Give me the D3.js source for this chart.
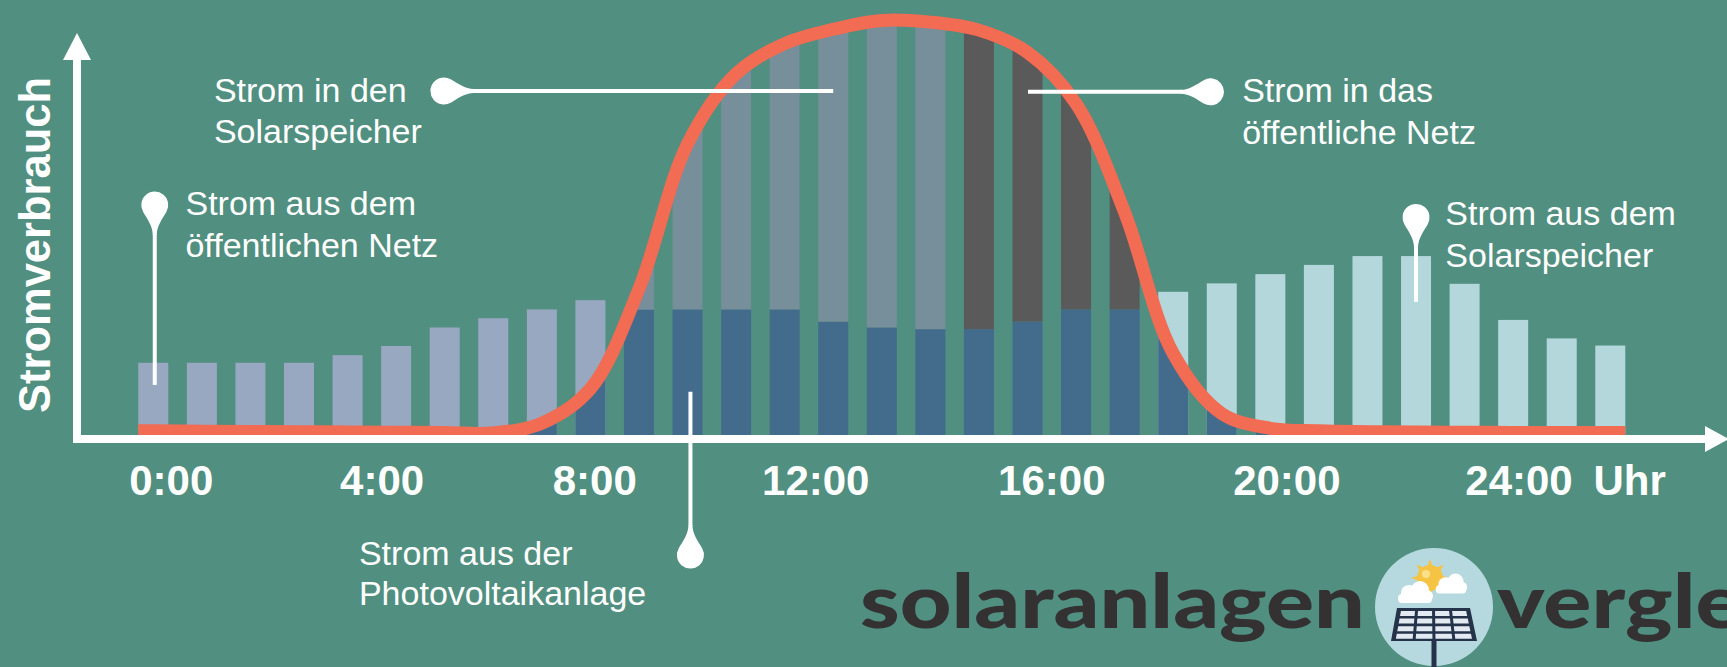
<!DOCTYPE html>
<html lang="de">
<head>
<meta charset="utf-8">
<script src="https://cdn.jsdelivr.net/npm/d3@7"></script>
<style>
  html, body { margin: 0; padding: 0; background: #518f80; }
  svg { display: block; }
</style>
</head>
<body>
<svg id="chart" width="1727" height="667"></svg>
<script>
// Tagesverlauf eines Haushalts mit PV-Anlage und Speicher, 31 Zeitschritte (relative Einheiten)
const verbrauch = [1.72, 1.72, 1.72, 1.72, 1.90, 2.12, 2.56, 2.78, 2.99, 3.21,
                   2.99, 2.99, 2.99, 2.99, 2.70, 2.56, 2.52, 2.52, 2.70, 2.99,
                   2.99, 3.41, 3.61, 3.83, 4.05, 4.26, 4.26, 3.60, 2.74, 2.30, 2.13];
const pvErzeugung = [0.10, 0.09, 0.085, 0.08, 0.07, 0.065, 0.06, 0.05, 0.28, 1.10,
                     3.48, 6.93, 8.60, 9.32, 9.66, 9.87, 9.83, 9.64, 9.11, 7.89,
                     5.30, 1.94, 0.51, 0.16, 0.10, 0.08, 0.07, 0.065, 0.06, 0.06, 0.06];
// Woher der fehlende Strom kommt, wenn die PV-Anlage nicht reicht
const deckungAus = ['netz', 'netz', 'netz', 'netz', 'netz', 'netz', 'netz', 'netz', 'netz', 'netz',
                    'netz', null, null, null, null, null, null, null, null, null,
                    null, 'speicher', 'speicher', 'speicher', 'speicher', 'speicher', 'speicher', 'speicher', 'speicher', 'speicher', 'speicher'];
// Wohin der Überschuss der PV-Anlage fließt
const ueberschussIn = [null, null, null, null, null, null, null, null, null, null,
                       'speicher', 'speicher', 'speicher', 'speicher', 'speicher', 'speicher', 'speicher', 'netz', 'netz', 'netz',
                       'netz', null, null, null, null, null, null, null, null, null, null];

const tickLabels = ['0:00', '4:00', '8:00', '12:00', '16:00', '20:00', '24:00'];
const tickSlots = [0.36, 4.70, 9.08, 13.63, 18.49, 23.33, 28.11];
const zeitEinheit = 'Uhr';
const achsenTitel = 'Stromverbrauch';

const hinweisTexte = [
  ['Strom aus dem', 'öffentlichen Netz'],
  ['Strom in den', 'Solarspeicher'],
  ['Strom in das', 'öffentliche Netz'],
  ['Strom aus dem', 'Solarspeicher'],
  ['Strom aus der', 'Photovoltaikanlage']
];
const logoTeile = ['solaranlagen', 'vergleich'];

// ---------------------------------------------------------------------------
const farbeBezug = { netz: '#98a8c0', speicher: '#b3d7db' };
const farbeUeberschuss = { speicher: '#778e9b', netz: '#5a5a5a' };
const farbePV = '#436b8c';
const farbeKurve = '#f26b53';
const weiss = '#ffffff';
const schrift = '"Liberation Sans", Arial, Helvetica, sans-serif';

const svg = d3.select('#chart');
const n = verbrauch.length;
const idx = d3.range(n);
const barW = 30;

const x = d3.scaleLinear().domain([0, n - 1]).range([153.3, 1610.3]);
const y = d3.scaleLinear().domain([0, 10]).range([435, 15]);

// PV-Kurve reicht bis an die Außenkanten der ersten und letzten Säule
const randL = x.invert(x(0) - barW / 2);
const randR = x.invert(x(n - 1) + barW / 2);
const kurvenPunkte = [[randL, pvErzeugung[0]]]
  .concat(idx.map(i => [i, pvErzeugung[i]]))
  .concat([[randR, pvErzeugung[n - 1]]]);
const kurvenTyp = d3.curveCatmullRom.alpha(0.5);

const defs = svg.append('defs');
const flaeche = d3.area()
  .x(d => x(d[0])).y0(y(0)).y1(d => y(d[1]))
  .curve(kurvenTyp);
defs.append('clipPath').attr('id', 'unterKurve')
  .append('path').attr('d', flaeche(kurvenPunkte));

// Säulen: Bezug (Netz/Speicher), direkt genutzter PV-Strom, Überschuss
const balken = svg.append('g').attr('class', 'balken');

balken.append('g').selectAll('rect')
  .data(idx.filter(i => deckungAus[i]))
  .join('rect')
  .attr('x', i => x(i) - barW / 2).attr('width', barW)
  .attr('y', i => y(verbrauch[i]))
  .attr('height', i => y(0) - y(verbrauch[i]))
  .attr('fill', i => farbeBezug[deckungAus[i]]);

balken.append('g').attr('clip-path', 'url(#unterKurve)').selectAll('rect')
  .data(idx)
  .join('rect')
  .attr('x', i => x(i) - barW / 2).attr('width', barW)
  .attr('y', i => y(verbrauch[i]))
  .attr('height', i => y(0) - y(verbrauch[i]))
  .attr('fill', farbePV);

const yOben = y.domain()[1] + 0.5;
balken.append('g').attr('clip-path', 'url(#unterKurve)').selectAll('rect')
  .data(idx.filter(i => ueberschussIn[i]))
  .join('rect')
  .attr('x', i => x(i) - barW / 2).attr('width', barW)
  .attr('y', y(yOben))
  .attr('height', i => y(verbrauch[i]) - y(yOben))
  .attr('fill', i => farbeUeberschuss[ueberschussIn[i]]);

// PV-Erzeugungskurve
const linie = d3.line().x(d => x(d[0])).y(d => y(d[1])).curve(kurvenTyp);
svg.append('path')
  .attr('d', linie(kurvenPunkte))
  .attr('fill', 'none')
  .attr('stroke', farbeKurve)
  .attr('stroke-width', 13);

// Achsen mit Pfeilspitzen
const achsen = svg.append('g').attr('fill', weiss);
const achsX0 = 73, achsDicke = 8, achsY = y(0);
achsen.append('rect').attr('x', achsX0).attr('y', 58)
  .attr('width', achsDicke).attr('height', achsY + achsDicke - 58);
achsen.append('path').attr('d', `M${achsX0 - 10},60 L${achsX0 + 4},33 L${achsX0 + 18},60 Z`);
achsen.append('rect').attr('x', achsX0).attr('y', achsY)
  .attr('width', 1708 - achsX0).attr('height', achsDicke);
achsen.append('path').attr('d', `M1705,${achsY - 9} L1729,${achsY + 4} L1705,${achsY + 17} Z`);

// Zeitbeschriftung
const xAchse = d3.axisBottom(x)
  .tickValues(tickSlots)
  .tickFormat((d, i) => tickLabels[i])
  .tickSize(0).tickPadding(0);
const xg = svg.append('g').attr('transform', 'translate(0,465)').call(xAchse);
xg.select('.domain').remove();
xg.selectAll('text')
  .attr('fill', weiss)
  .style('font-family', schrift)
  .style('font-weight', 'bold')
  .style('font-size', '42px');
svg.append('text')
  .attr('x', x(tickSlots[tickSlots.length - 1]) + 75)
  .attr('y', 495)
  .attr('fill', weiss)
  .style('font-family', schrift).style('font-weight', 'bold').style('font-size', '42px')
  .text(zeitEinheit);

// Achsentitel
svg.append('text')
  .attr('transform', 'translate(50,245) rotate(-90)')
  .attr('text-anchor', 'middle')
  .attr('fill', weiss)
  .style('font-family', schrift).style('font-weight', 'bold').style('font-size', '43.5px')
  .text(achsenTitel);

// Hinweise mit Stecknadel-Markierungen
const pinR = 13.5, pinL = 30, pinW = 2;
const kopf = `M${pinL},${-pinW} C${pinL - 9},${-pinW} ${pinR * 0.5 + 7},${-pinR * 0.866 + 4} ${pinR * 0.5},${-pinR * 0.866} ` +
  `A${pinR},${pinR} 0 1 0 ${pinR * 0.5},${pinR * 0.866} ` +
  `C${pinR * 0.5 + 7},${pinR * 0.866 - 4} ${pinL - 9},${pinW} ${pinL},${pinW} Z`;

const richtungen = {
  oben:   { dx: 0, dy: -1, drehung: 90 },
  unten:  { dx: 0, dy: 1, drehung: -90 },
  links:  { dx: -1, dy: 0, drehung: 0 },
  rechts: { dx: 1, dy: 0, drehung: 180 }
};
const hinweisLayout = [
  { slot: 0.03, wert: 1.19, richtung: 'oben', abstand: 180, tx: 30.7, ty: 10, zeile: 41.7 },
  { slot: 14.0, wert: 8.19, richtung: 'links', abstand: 389.3, tx: -230, ty: 10.7, zeile: 41.7 },
  { slot: 18.01, wert: 8.17, richtung: 'rechts', abstand: 182.5, tx: 31.7, ty: 10, zeile: 41.7 },
  { slot: 26.0, wert: 3.17, richtung: 'oben', abstand: 84.4, tx: 29.3, ty: 7.5, zeile: 41.7 },
  { slot: 11.06, wert: 1.03, richtung: 'unten', abstand: 163.3, tx: -331.5, ty: 10, zeile: 40 }
];

const hinweise = svg.append('g').attr('class', 'hinweise');
hinweisTexte.forEach((zeilen, k) => {
  const l = hinweisLayout[k];
  const r = richtungen[l.richtung];
  const ax = x(l.slot), ay = y(l.wert);
  const kx = ax + r.dx * l.abstand, ky = ay + r.dy * l.abstand;
  const g = hinweise.append('g');
  g.append('line')
    .attr('x1', ax).attr('y1', ay)
    .attr('x2', kx - r.dx * (pinL - 1)).attr('y2', ky - r.dy * (pinL - 1))
    .attr('stroke', weiss).attr('stroke-width', 4);
  g.append('path').attr('d', kopf).attr('fill', weiss)
    .attr('transform', `translate(${kx},${ky}) rotate(${r.drehung})`);
  const t = g.append('text')
    .attr('fill', weiss)
    .style('font-family', schrift).style('font-size', '34px');
  zeilen.forEach((z, j) => {
    t.append('tspan').attr('x', kx + l.tx).attr('y', ky + l.ty + j * l.zeile).text(z);
  });
});

// Logo (Wortmarke läuft rechts über den Bildrand hinaus)
const logo = svg.append('g').attr('class', 'logo');
const logoSchrift = 'Lato, "Open Sans", sans-serif';
const wortBreite = 505, logoGroesse = 74;
const wort1 = logo.append('text')
  .attr('fill', '#333132')
  .style('font-family', logoSchrift).style('font-weight', 900).style('font-size', logoGroesse + 'px')
  .text(logoTeile[0]);
const streckung = wortBreite / wort1.node().getComputedTextLength();
wort1.attr('transform', `translate(860,628) scale(${streckung},1)`);
logo.append('text')
  .attr('transform', `translate(1497,628) scale(${streckung},1)`)
  .attr('fill', '#333132')
  .style('font-family', logoSchrift).style('font-weight', 900).style('font-size', logoGroesse + 'px')
  .text(logoTeile[1]);

const icon = logo.append('g').attr('transform', 'translate(1434,607)');
icon.append('circle').attr('r', 59).attr('fill', '#b5d9de');
const sonne = icon.append('g').attr('transform', 'translate(-4,-29)');
d3.range(8).forEach(k => {
  const a = k * Math.PI / 4;
  sonne.append('path')
    .attr('d', `M${Math.cos(a - 0.22) * 12},${Math.sin(a - 0.22) * 12} L${Math.cos(a) * 19},${Math.sin(a) * 19} L${Math.cos(a + 0.22) * 12},${Math.sin(a + 0.22) * 12} Z`)
    .attr('fill', '#f5c445');
});
sonne.append('circle').attr('r', 13).attr('fill', '#f5c445');
sonne.append('circle').attr('cx', -4).attr('cy', -4).attr('r', 4).attr('fill', '#fbe08a');
const wolke = (g, cx, cy, s) => {
  const w = g.append('g').attr('fill', '#ffffff').attr('transform', `translate(${cx},${cy}) scale(${s})`);
  w.append('rect').attr('x', -17).attr('y', -3).attr('width', 34).attr('height', 9).attr('rx', 4);
  w.append('circle').attr('cx', -6).attr('cy', -4).attr('r', 8);
  w.append('circle').attr('cx', 5).attr('cy', -7).attr('r', 9);
  w.append('circle').attr('cx', 12).attr('cy', -1).attr('r', 6);
};
wolke(icon, -19, -10, 1.0);
wolke(icon, 17, -19, 0.9);
icon.append('rect').attr('x', -2.5).attr('y', 33).attr('width', 5).attr('height', 30).attr('fill', '#24324a');
icon.append('path').attr('d', 'M-37,1 L36,1 L43,34 L-43,34 Z').attr('fill', '#24324a');
const reihen = 4, spalten = 4;
d3.range(reihen).forEach(rr => {
  d3.range(spalten).forEach(cc => {
    const yt = 4 + rr * 7.6, yb = yt + 5;
    const lerp = (a, b, t) => a + (b - a) * t;
    const lt = lerp(-37, -43, (yt - 1) / 33) + 3, rt = lerp(36, 43, (yt - 1) / 33) - 3;
    const lb = lerp(-37, -43, (yb - 1) / 33) + 3, rb = lerp(36, 43, (yb - 1) / 33) - 3;
    const wt = (rt - lt) / spalten, wb = (rb - lb) / spalten;
    icon.append('path')
      .attr('d', `M${lt + cc * wt + 1.5},${yt} L${lt + (cc + 1) * wt - 1.5},${yt} L${lb + (cc + 1) * wb - 1.5},${yb} L${lb + cc * wb + 1.5},${yb} Z`)
      .attr('fill', '#e2e9f0');
  });
});
</script>
</body>
</html>
